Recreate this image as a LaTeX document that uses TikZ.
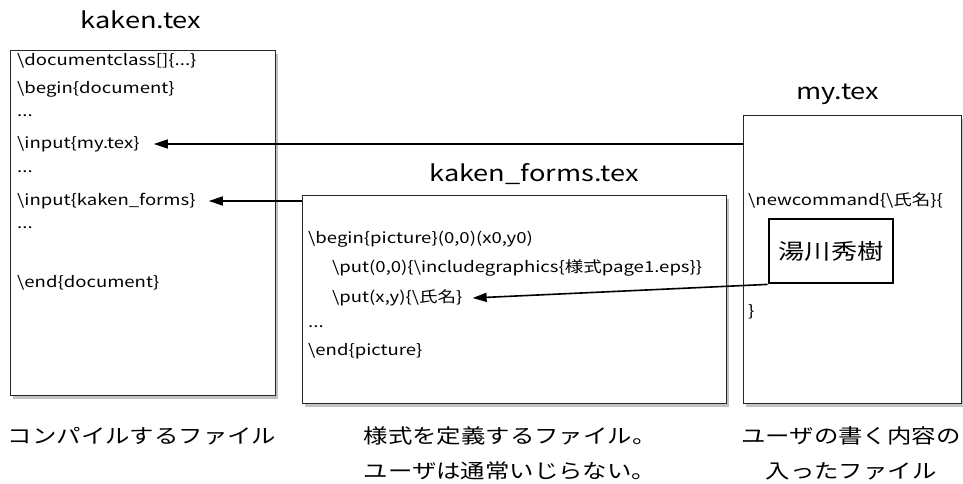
\documentclass[tikz,border=0pt]{standalone}
\usepackage{fontspec}
\setmainfont{Noto Sans CJK JP}[FakeStretch=1.22]
\usetikzlibrary{arrows.meta,shadows}
\begin{document}
\begin{tikzpicture}[x=1pt,y=-1pt,
  filebox/.style={draw=black!85, line width=1.2pt, fill=white, anchor=north west, inner sep=0pt,
    drop shadow={shadow xshift=2pt, shadow yshift=-3pt, opacity=0.4, fill=black!60}},
  code/.style={anchor=west, inner sep=0pt, font=\fontsize{15.2}{18}\selectfont},
  ttl/.style={inner sep=0pt, font=\fontsize{22.3}{26}\selectfont},
  captxt/.style={inner sep=0pt, font=\fontsize{20}{35}\selectfont, align=center},
  arr/.style={line width=1.6pt, -{Triangle[length=14pt,width=9pt]}}]
\useasboundingbox (0,0) rectangle (963,484);
% boxes
\node[filebox, minimum width=265pt, minimum height=345pt] (kaken) at (10,50) {};
\node[filebox, minimum width=424pt, minimum height=208pt] (forms) at (302,195) {};
\node[filebox, minimum width=218pt, minimum height=288pt] (my) at (743,115) {};
% titles
\node[ttl] (t1) at (141,20) {kaken.tex};
\node[ttl] (t2) at (534,174) {kaken\_forms.tex};
\node[ttl] (t3) at (838,94) {my.tex};
% kaken.tex contents
\node[code] (k1) at (17,61) {\textbackslash documentclass[]\{...\}};
\node[code] (k2) at (17,89) {\textbackslash begin\{document\}};
\node[code] (k3) at (17,116) {...};
\node[code] (k4) at (17,144) {\textbackslash input\{my.tex\}};
\node[code] (k5) at (17,172) {...};
\node[code] (k6) at (17,201) {\textbackslash input\{kaken\_forms\}};
\node[code] (k7) at (17,228) {...};
\node[code] (k8) at (17,283) {\textbackslash end\{document\}};
% kaken_forms.tex contents
\node[code] (f1) at (308,239) {\textbackslash begin\{picture\}(0,0)(x0,y0)};
\node[code] (f2) at (332,268) {\textbackslash put(0,0)\{\textbackslash includegraphics\{様式page1.eps\}\}};
\node[code] (f3) at (332,298) {\textbackslash put(x,y)\{\textbackslash 氏名\}};
\node[code] (f4) at (308,327) {...};
\node[code] (f5) at (308,351) {\textbackslash end\{picture\}};
% my.tex contents
\node[code] (m1) at (748,200) {\textbackslash newcommand\{\textbackslash 氏名\}\{};
\node[draw=black, line width=2.8pt, minimum width=124pt, minimum height=64pt, inner sep=0pt,
  font=\fontsize{21.5}{26}\selectfont] (name) at (831,251) {湯川秀樹};
\node[code] (m2) at (748,312) {\}};
% arrows
\draw[arr] (my.west |- k4.east) -- ([xshift=14pt]k4.east);
\draw[arr] (forms.west |- k6.east) -- ([xshift=13pt]k6.east);
\draw[arr] (name.south west) -- ([xshift=10pt]f3.east);
% captions
\node[captxt] (c1) at (142,436) {コンパイルするファイル};
\node[captxt] (c2) at (510,453) {様式を定義するファイル。\\ユーザは通常いじらない。};
\node[captxt] (c3) at (851,453) {ユーザの書く内容の\\入ったファイル};
\end{tikzpicture}
\end{document}
